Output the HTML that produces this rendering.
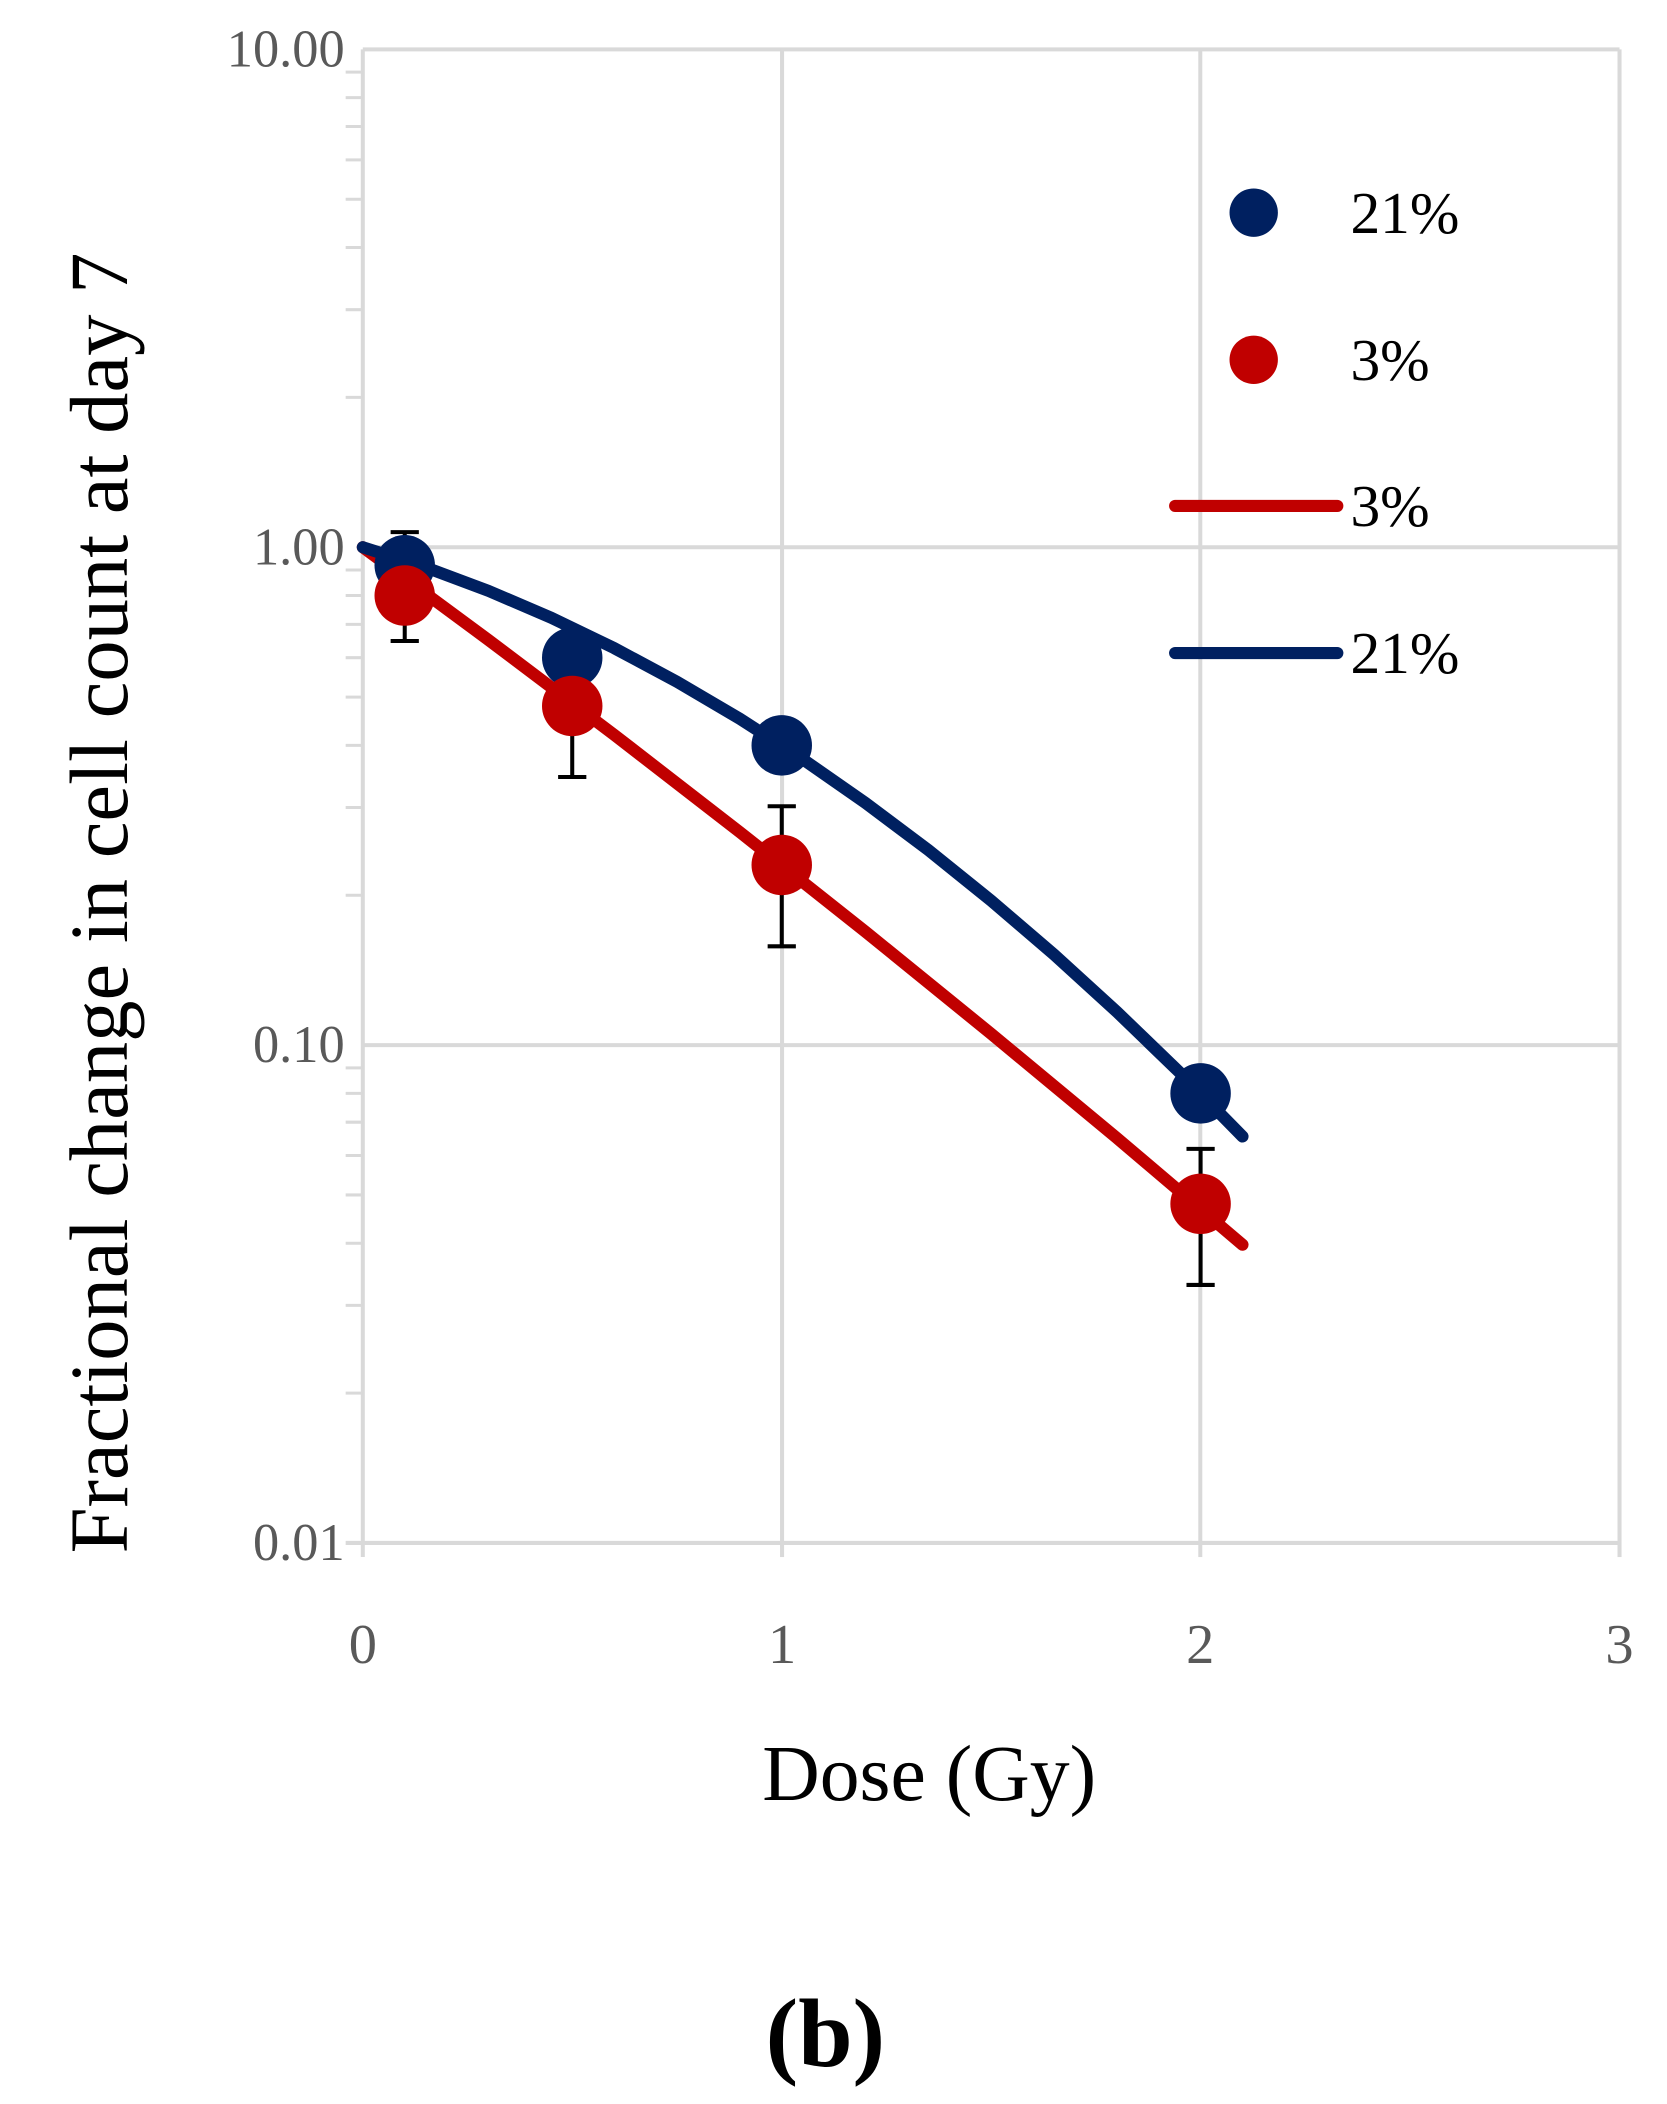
<!DOCTYPE html>
<html><head><style>body{margin:0;background:#fff}svg{display:block}</style></head><body>
<svg width="1667" height="2104" xmlns="http://www.w3.org/2000/svg" font-family="Liberation Serif, serif">
<g transform="scale(1.0078)">
<g stroke="#d9d9d9" stroke-width="4">
<line x1="360" y1="49" x2="1607" y2="49"/><line x1="360" y1="543" x2="1607" y2="543"/><line x1="360" y1="1037" x2="1607" y2="1037"/>
<line x1="776" y1="49" x2="776" y2="1531"/><line x1="1191" y1="49" x2="1191" y2="1531"/><line x1="1607" y1="49" x2="1607" y2="1531"/>
<line x1="360" y1="49" x2="360" y2="1545"/><line x1="343" y1="1531" x2="1607" y2="1531"/>
<line x1="776" y1="1531" x2="776" y2="1545"/><line x1="1191" y1="1531" x2="1191" y2="1545"/><line x1="1607" y1="1531" x2="1607" y2="1545"/>
</g>
<path stroke="#d9d9d9" stroke-width="3" d="M343 1382.3H360M343 1295.3H360M343 1233.6H360M343 1185.7H360M343 1146.6H360M343 1113.5H360M343 1084.9H360M343 1059.6H360M343 888.3H360M343 801.3H360M343 739.6H360M343 691.7H360M343 652.6H360M343 619.5H360M343 590.9H360M343 565.6H360M343 394.3H360M343 307.3H360M343 245.6H360M343 197.7H360M343 158.6H360M343 125.5H360M343 96.9H360M343 71.6H360"/>
<g fill="#595959" font-size="52" text-anchor="end">
<text x="342" y="66">10.00</text><text x="342" y="560">1.00</text><text x="342" y="1054">0.10</text><text x="342" y="1548">0.01</text>
</g>
<g fill="#595959" font-size="56" text-anchor="middle">
<text x="360" y="1650">0</text><text x="776" y="1650">1</text><text x="1191" y="1650">2</text><text x="1607" y="1650">3</text>
</g>
<text x="922" y="1786" font-size="79" text-anchor="middle" fill="#000">Dose (Gy)</text>
<text transform="translate(126,896) rotate(-90)" font-size="82" text-anchor="middle" fill="#000">Fractional change in cell count at day 7</text>
<text x="819" y="2050" font-size="97" font-weight="bold" text-anchor="middle">(b)</text>
<polyline fill="none" stroke="#c00000" stroke-width="12" stroke-linecap="round" stroke-linejoin="round" points="360,543 484.7,635 609.4,729.1 734.1,825.7 858.8,924.5 983.5,1025.8 1108.2,1129.2 1232.9,1235.1"/>
<polyline fill="none" stroke="#002060" stroke-width="12" stroke-linecap="round" stroke-linejoin="round" points="360,543 422.4,563 484.7,586.3 547.1,613 609.4,643.1 671.8,676.5 734.1,713.2 796.5,753.3 858.8,796.7 921.2,843.5 983.5,893.7 1045.9,947.2 1108.2,1004 1170.6,1064.2 1232.9,1127.7"/>
<g stroke="#000" stroke-width="4">
<path d="M401.6 528V636M387.6 528H415.6M387.6 636H415.6M567.8 652V771M553.8 771H581.8M775.7 800V939M761.7 800H789.7M761.7 939H789.7M1191.3 1140V1275M1177.3 1140H1205.3M1177.3 1275H1205.3"/>
</g>
<g fill="#002060"><circle cx="401.6" cy="560.9" r="30"/><circle cx="567.8" cy="652.6" r="30"/><circle cx="775.7" cy="739.6" r="30"/><circle cx="1191.3" cy="1084.9" r="30"/></g>
<g fill="#c00000"><circle cx="401.6" cy="590.9" r="30"/><circle cx="567.8" cy="700.5" r="30"/><circle cx="775.7" cy="858.3" r="30"/><circle cx="1191.3" cy="1194.5" r="30"/></g>
<g font-size="59" fill="#000">
<circle cx="1244" cy="211" r="24" fill="#002060"/><text x="1340" y="231">21%</text>
<circle cx="1244" cy="357" r="24" fill="#c00000"/><text x="1340" y="377">3%</text>
<line x1="1166" y1="502" x2="1327" y2="502" stroke="#c00000" stroke-width="12" stroke-linecap="round"/><text x="1340" y="522">3%</text>
<line x1="1166" y1="648" x2="1327" y2="648" stroke="#002060" stroke-width="12" stroke-linecap="round"/><text x="1340" y="668">21%</text>
</g>
</g>
</svg>
</body></html>
